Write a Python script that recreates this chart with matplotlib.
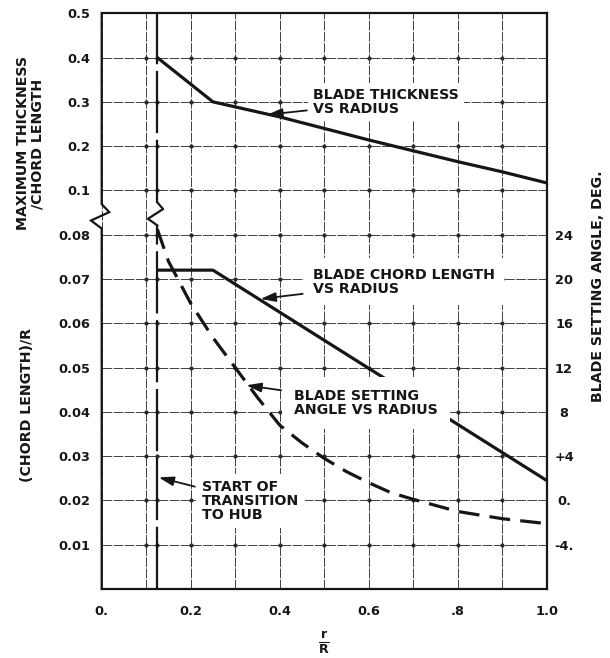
import numpy as np
import matplotlib
matplotlib.use("Agg")
import matplotlib.pyplot as plt

plt.rcParams['font.family'] = ['DejaVu Sans']
plt.rcParams['font.weight'] = 'bold'

INK = '#161616'
FS_TICK = 9.3
FS = 10.2

# ---- data -------------------------------------------------------------
hub_r = 0.125  # start of transition to hub (r/R)

thick_r = [0.125, 0.25, 0.4, 0.6, 0.8, 0.9, 1.0]
thick_v = [0.400, 0.300, 0.266, 0.214, 0.165, 0.142, 0.117]

chord_r = [0.125, 0.25, 1.0]
chord_v = [0.072, 0.072, 0.0245]

angle_r = [0.125, 0.15, 0.2, 0.25, 0.3, 0.35, 0.4, 0.45, 0.5, 0.55,
           0.6, 0.65, 0.7, 0.8, 0.9, 1.0]
angle_deg = [24.5, 21.6, 17.8, 14.7, 12.0, 9.3, 6.8, 5.2, 3.8, 2.6,
             1.6, 0.7, 0.1, -1.0, -1.65, -2.1]

x_ticks = [0.0, 0.1, 0.2, 0.3, 0.4, 0.5, 0.6, 0.7, 0.8, 0.9, 1.0]
x_tick_labels = ['0.', '', '0.2', '', '0.4', '', '0.6', '', '.8', '', '1.0']

y_ticks = [0.01, 0.02, 0.03, 0.04, 0.05, 0.06, 0.07, 0.08,
           0.1, 0.2, 0.3, 0.4, 0.5]
y_tick_labels = ['0.01', '0.02', '0.03', '0.04', '0.05', '0.06', '0.07',
                 '0.08', '0.1', '0.2', '0.3', '0.4', '0.5']

angle_ticks = [-4, 0, 4, 8, 12, 16, 20, 24]
angle_tick_labels = ['-4.', '0.', '+4', '8', '12', '16', '20', '24']

# broken left scale: 0-0.08 in steps of 0.01, 0.1-0.5 in steps of 0.1
break_lo, break_hi = 0.08, 0.1
seg_vals = [0.0, break_lo, break_hi, 0.5]
seg_pos = [0.0, 8.0, 9.0, 13.0]


def fwd(v):
    return np.interp(np.asarray(v, dtype=float), seg_vals, seg_pos)


def inv(u):
    return np.interp(np.asarray(u, dtype=float), seg_pos, seg_vals)


# ---- figure -----------------------------------------------------------
fig = plt.figure(figsize=(6.10, 6.58), dpi=100)
ax = fig.add_axes([0.1667, 0.1049, 0.7295, 0.8749])
ax.set_yscale('function', functions=(fwd, inv))
ax.set_xlim(0, 1.0)
ax.set_ylim(0, 0.5)

ax.set_xticks(x_ticks, x_tick_labels)
ax.set_yticks(y_ticks, y_tick_labels)
ax.tick_params(axis='y', length=0, pad=8.5, labelsize=FS_TICK, colors=INK)
ax.tick_params(axis='x', length=0, pad=11.5, labelsize=FS_TICK, colors=INK)
ax.grid(True, color='#404040', lw=0.7, ls=(0, (10, 1.5)))
ax.set_axisbelow(True)

# dots at grid intersections
gx = [v for v in x_ticks[1:-1]] + [hub_r]
gy = y_ticks[:-1]
GX, GY = np.meshgrid(gx, gy)
ax.plot(GX.ravel(), GY.ravel(), 'o', ms=2.0, color='#2a2a2a', zorder=1.5)

for side in ('top', 'right', 'bottom'):
    ax.spines[side].set_color(INK)
    ax.spines[side].set_linewidth(1.6)
ax.spines['left'].set_visible(False)

# left spine with break symbol
zz_v = [break_lo + f * (break_hi - break_lo) for f in (0.14, 0.32, 0.51, 0.69)]
spine_x = [0, 0, 0 - 0.024, 0 + 0.017, 0, 0]
spine_y = [0, zz_v[0], zz_v[1], zz_v[2], zz_v[3], 0.5]
ax.plot(spine_x, spine_y, color=INK, lw=1.6, clip_on=False, zorder=4,
        solid_joinstyle='miter')

# hub transition line with its own break symbol
hz = [break_lo + f * (break_hi - break_lo) for f in (0.21, 0.36, 0.58, 0.73)]
ax.plot([hub_r, hub_r], [0, hz[0]], color=INK, lw=1.6, ls=(0, (28, 3)), zorder=2.5)
ax.plot([hub_r, hub_r], [hz[3], 0.5], color=INK, lw=1.6, ls=(0, (28, 3)), zorder=2.5)
ax.plot([hub_r, hub_r - 0.021, hub_r + 0.013, hub_r],
        [hz[0], hz[1], hz[2], hz[3]], color=INK, lw=1.6, zorder=2.5)

# curves
ax.plot(thick_r, thick_v, color=INK, lw=2.3, zorder=2.6, solid_capstyle='butt')
ax.plot(chord_r, chord_v, color=INK, lw=2.3, zorder=2.6, solid_capstyle='butt')

ax2 = ax.twinx()
ax2.set_ylim(-8, 44)
for s in ax2.spines.values():
    s.set_visible(False)
ax2.set_yticks(angle_ticks, angle_tick_labels)
ax2.tick_params(axis='y', length=0, pad=12.5, labelsize=FS_TICK, colors=INK)
for lab in ax2.get_yticklabels():
    lab.set_horizontalalignment('center')
ax2.plot(angle_r, angle_deg, color=INK, lw=2.3, ls=(0, (6.5, 3.2)), zorder=3)

# annotations
arrow = dict(arrowstyle='-|>,head_length=0.9,head_width=0.28', color=INK,
             lw=1.3, mutation_scale=10, shrinkA=1, shrinkB=0)


def label(text, xy, xytext, pad, xycoords='data'):
    ax.annotate(text, xy=xy, xycoords=xycoords, xytext=xytext,
                textcoords='data', ha='left', va='center', fontsize=FS,
                fontweight='bold', color=INK, linespacing=1.0,
                bbox=dict(boxstyle=f'square,pad={pad}', fc='white', ec='none'),
                arrowprops=arrow, zorder=5)


label('BLADE THICKNESS\nVS RADIUS', (0.372, 0.271), (0.4755, 0.300), 0.35)
label('BLADE CHORD LENGTH\nVS RADIUS', (0.357, 0.0655), (0.4755, 0.0694), 0.65)
label('BLADE SETTING\nANGLE VS RADIUS', (0.325, 10.4), (0.433, 0.0421), 0.85,
      xycoords=ax2.transData)
label('START OF\nTRANSITION\nTO HUB', (hub_r + 0.003, 0.0252), (0.225, 0.0199), 0.4)

# axis titles
ax.set_xlabel(r'$\frac{\mathbf{r}}{\mathbf{R}}$', fontsize=13, color=INK,
              labelpad=8)
fig.text(30 / 610, 1 - 143.5 / 658, 'MAXIMUM THICKNESS\n/CHORD LENGTH',
         rotation=90, ha='center', va='center', multialignment='center',
         fontsize=FS, fontweight='bold', color=INK, linespacing=1.05)
fig.text(27 / 610, 1 - 405 / 658, '(CHORD LENGTH)/R', rotation=90,
         ha='center', va='center', fontsize=FS, fontweight='bold', color=INK)
fig.text(598 / 610, 1 - 286 / 658, 'BLADE SETTING ANGLE, DEG.', rotation=90,
         ha='center', va='center', fontsize=FS, fontweight='bold', color=INK)

fig.savefig('out.png', dpi=100, facecolor='white')
